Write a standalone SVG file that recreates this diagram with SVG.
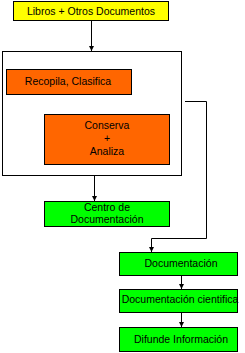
<svg xmlns="http://www.w3.org/2000/svg" width="245" height="353" viewBox="0 0 245 353">
<style>
.box{stroke:#000;stroke-width:1}
.y{fill:#FFFF00}.o{fill:#FF6600}.g{fill:#00FF00}.w{fill:#FFFFFF}
text{font-family:"Liberation Sans",Arial,sans-serif;font-size:10.5px;fill:#000;text-anchor:middle}
.c{fill:none;stroke:#000;stroke-width:1}
</style>
<defs>
<marker id="ah" markerUnits="userSpaceOnUse" markerWidth="6" markerHeight="5" refX="5" refY="2.5" orient="auto">
<polygon points="0,0 5,2.5 0,5" fill="#000"/>
</marker>
</defs>
<rect width="245" height="353" fill="#FFFFFF"/>
<g id="n-libros"><rect class="box y" x="13.5" y="1.5" width="155" height="19"/><text x="91" y="14.5" font-size="10.7">Libros + Otros Documentos</text></g>
<g id="n-proceso"><rect class="box w" x="2.5" y="51.5" width="179" height="124"/></g>
<g id="n-recopila"><rect class="box o" x="6.5" y="69.5" width="125" height="25"/><text x="68" y="84.5">Recopila, Clasifica</text></g>
<g id="n-conserva"><rect class="box o" x="44.5" y="114.5" width="125" height="50"/><text x="107" y="129">Conserva</text><text x="107" y="142">+</text><text x="107" y="155">Analiza</text></g>
<g id="n-centro"><rect class="box g" x="44.5" y="201.5" width="125" height="25"/><text x="107" y="211">Centro de</text><text x="107" y="223">Documentación</text></g>
<g id="n-doc"><rect class="box g" x="119.5" y="252.5" width="118" height="23"/><text x="181" y="267">Documentación</text></g>
<g id="n-cient"><rect class="box g" x="119.5" y="289.5" width="118" height="23"/><text x="180" y="303">Documentación cientifica</text></g>
<g id="n-difunde"><rect class="box g" x="119.5" y="327.5" width="118" height="24"/><text x="181" y="343">Difunde Información</text></g>
<g id="connectors">
<path class="c" d="M91.5,21 V51" marker-end="url(#ah)"/>
<path class="c" d="M94.5,176 V201" marker-end="url(#ah)"/>
<path class="c" d="M185,101.5 H206.5 V238.5 H151.5 V252" marker-end="url(#ah)"/>
<path class="c" d="M181.5,276 V289" marker-end="url(#ah)"/>
<path class="c" d="M181.5,313 V327" marker-end="url(#ah)"/>
</g>
</svg>
